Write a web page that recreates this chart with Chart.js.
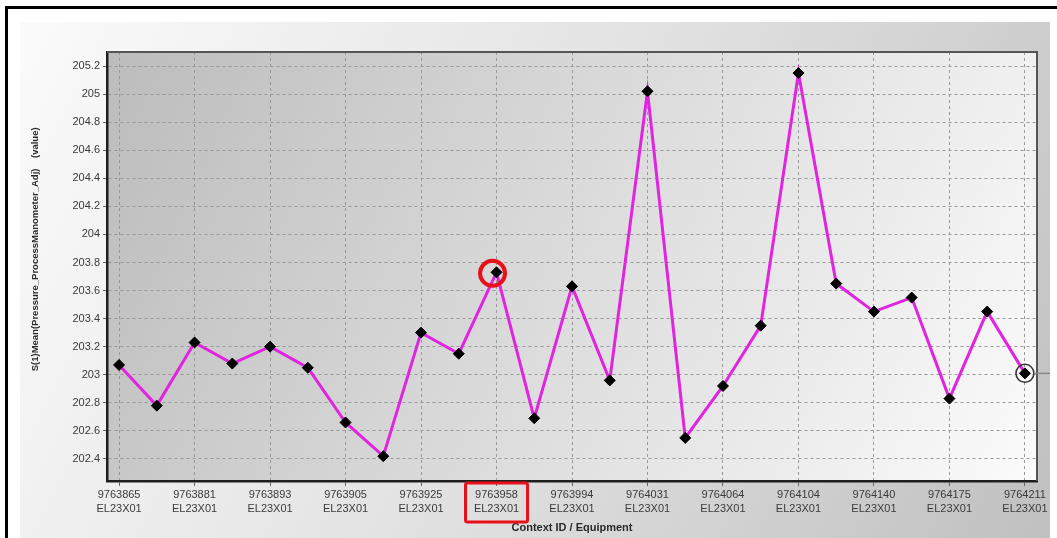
<!DOCTYPE html>
<html>
<head>
<meta charset="utf-8">
<script src="https://cdn.jsdelivr.net/npm/chart.js@4/dist/chart.umd.min.js"></script>
<style>
  html, body { margin: 0; padding: 0; background: #fff; }
  #wrap { width: 1057px; height: 538px; }
</style>
</head>
<body>
<div id="wrap"><canvas id="chart" width="1057" height="538"></canvas></div>
<script>
// values, one per context
const values = [
  203.07, 202.78, 203.23, 203.08, 203.20, 203.05, 202.66, 202.42, 203.30, 203.15,
  203.73, 202.69, 203.63, 202.96, 205.02, 202.55, 202.92, 203.35, 205.15, 203.65,
  203.45, 203.55, 202.83, 203.45, 203.01
];
// every other context gets a label on the axis
const contextIds = ['9763865', '9763881', '9763893', '9763905', '9763925', '9763958', '9763994',
  '9764031', '9764064', '9764104', '9764140', '9764175', '9764211'];
const equipment = 'EL23X01';
const yTicks = [202.4, 202.6, 202.8, 203, 203.2, 203.4, 203.6, 203.8, 204, 204.2, 204.4, 204.6, 204.8, 205, 205.2];

const highlightIndex = 10;   // red circle + red box on its label
const lastIndex = values.length - 1;

const frame = {
  id: 'frame',
  beforeDraw(chart) {
    const ctx = chart.ctx;
    const a = chart.chartArea;
    ctx.save();
    ctx.fillStyle = '#fff';
    ctx.fillRect(0, 0, chart.width, chart.height);
    // grey panel behind everything
    let g = ctx.createLinearGradient(20, 22, 1050, 538);
    g.addColorStop(0, '#fbfbfb');
    g.addColorStop(0.5, '#e2e2e2');
    g.addColorStop(1, '#c0c0c0');
    ctx.fillStyle = g;
    ctx.fillRect(20, 22, 1030, 516);
    // black outer border
    ctx.fillStyle = '#000';
    ctx.fillRect(5, 6, chart.width - 5, 3);
    ctx.fillRect(5, 6, 3, chart.height - 6);
    // plot background
    g = ctx.createLinearGradient(a.left, a.top, a.right, a.bottom);
    g.addColorStop(0, '#bcbcbc');
    g.addColorStop(0.5, '#dcdcdc');
    g.addColorStop(1, '#fbfbfb');
    ctx.fillStyle = g;
    ctx.fillRect(a.left, a.top, a.right - a.left, a.bottom - a.top);
    ctx.restore();
  },
  afterDraw(chart) {
    const ctx = chart.ctx;
    const a = chart.chartArea;
    ctx.save();
    ctx.strokeStyle = '#555';
    ctx.lineWidth = 2;
    ctx.beginPath();
    ctx.moveTo(a.left, a.top);
    ctx.lineTo(a.right, a.top);
    ctx.lineTo(a.right, a.bottom);
    ctx.stroke();

    const pts = chart.getDatasetMeta(0).data;
    // ring + leader on the last point
    const pl = pts[lastIndex];
    ctx.strokeStyle = '#333';
    ctx.lineWidth = 1.5;
    ctx.beginPath();
    ctx.arc(pl.x, pl.y, 9, 0, Math.PI * 2);
    ctx.stroke();
    ctx.strokeStyle = '#888';
    ctx.beginPath();
    ctx.moveTo(pl.x + 9, pl.y);
    ctx.lineTo(1050, pl.y);
    ctx.stroke();

    // red circle on the highlighted point
    const ph = pts[highlightIndex];
    ctx.strokeStyle = '#e8101a';
    ctx.lineWidth = 4;
    ctx.beginPath();
    ctx.arc(ph.x - 4, ph.y + 1, 12.5, 0, Math.PI * 2);
    ctx.stroke();

    // red box around its axis label
    const x = chart.scales.x.getPixelForValue(highlightIndex);
    ctx.lineWidth = 3;
    ctx.beginPath();
    ctx.roundRect(x - 31, a.bottom + 2, 62, 39, 2);
    ctx.stroke();
    ctx.restore();
  }
};

new Chart(document.getElementById('chart'), {
  type: 'line',
  data: {
    labels: values.map((v, i) => i),
    datasets: [{
      data: values.map((v, i) => ({ x: i, y: v })),
      borderColor: '#e024e0',
      borderWidth: 3,
      tension: 0,
      pointStyle: 'rectRot',
      pointRadius: 5.5,
      pointBackgroundColor: '#000',
      pointBorderColor: '#000',
      pointBorderWidth: 1
    }]
  },
  options: {
    responsive: false,
    animation: false,
    devicePixelRatio: 1,
    layout: { padding: { left: 20, top: 52, right: 20, bottom: 0 } },
    plugins: { legend: { display: false }, tooltip: { enabled: false } },
    scales: {
      x: {
        type: 'linear',
        min: -0.32,
        max: lastIndex + 0.32,
        afterBuildTicks: s => { s.ticks = contextIds.map((c, k) => ({ value: 2 * k })); },
        afterFit: s => { s.height = 57; },
        ticks: {
          autoSkip: false,
          maxRotation: 0,
          padding: 2,
          color: '#3a3a3a',
          font: { family: 'Liberation Sans, Arial, sans-serif', size: 11, lineHeight: 1.3 },
          callback: v => [contextIds[v / 2], equipment]
        },
        grid: { color: '#999', tickLength: 5, tickColor: '#666' },
        border: { color: '#1e1e1e', width: 2.5, dash: [3, 3] },
        title: {
          display: true,
          text: 'Context ID / Equipment',
          color: '#2a2a2a',
          padding: { top: 0, bottom: 3 },
          font: { family: 'Liberation Sans, Arial, sans-serif', size: 11, weight: 'bold' }
        }
      },
      y: {
        min: 202.243,
        max: 205.3,
        afterBuildTicks: s => { s.ticks = yTicks.map(v => ({ value: v })); },
        afterFit: s => { s.width = 87; },
        ticks: {
          padding: 3,
          color: '#3a3a3a',
          font: { family: 'Liberation Sans, Arial, sans-serif', size: 11 },
          callback: v => String(Number(v.toFixed(1)))
        },
        grid: { color: '#999', tickLength: 4, tickColor: '#666' },
        border: { color: '#1e1e1e', width: 2.5, dash: [3, 3] },
        title: {
          display: true,
          // leading spaces nudge the centred title up, as in the original
          text: '             S(1)Mean(Pressure_ProcessManometer_Adj)    (value)',
          color: '#2a2a2a',
          padding: { top: 10, bottom: 0 },
          font: { family: 'Liberation Sans, Arial, sans-serif', size: 9.5, weight: 'bold' }
        }
      }
    }
  },
  plugins: [frame]
});
</script>
</body>
</html>
